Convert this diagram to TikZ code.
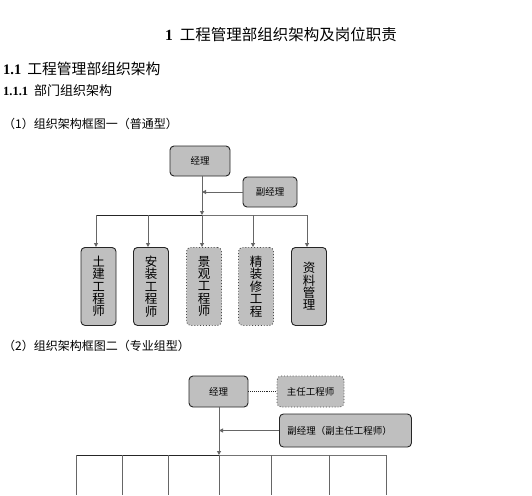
\documentclass[tikz,border=0pt]{standalone}
\usepackage{fontspec}
\setmainfont{Liberation Serif}
\newfontfamily\cjk{Noto Sans CJK SC}
\usetikzlibrary{arrows.meta}
\tikzset{
  box/.style={draw=black!85, line width=0.9pt, fill=black!25, rounded corners=4pt, inner sep=0pt},
  dbox/.style={box, dotted, draw=black!70},
  conn/.style={draw=black!60, line width=1pt},
  arr/.style={conn, -{Triangle[length=4pt,width=4pt]}},
  vtext/.style={font=\cjk\fontsize{12.5}{12.4}\selectfont, align=center},
  stext/.style={font=\cjk\fontsize{9.5}{11}\selectfont},
}
\begin{document}
\begin{tikzpicture}[x=1pt,y=-1pt]
\useasboundingbox[fill=white] (0,0) rectangle (532,495);
% headings
\node[anchor=west, inner sep=0pt] (title) at (165,35) {\fontsize{15.5}{16}\selectfont\textbf{1}\hspace{7pt}{\cjk 工程管理部组织架构及岗位职责}};
\node[anchor=west, inner sep=0pt] (h11) at (3,69) {\fontsize{14.5}{16}\selectfont\textbf{1.1}\hspace{6pt}{\cjk\fontsize{14.8}{16}\selectfont 工程管理部组织架构}};
\node[anchor=west, inner sep=0pt] (h111) at (3,91) {\fontsize{12.5}{14}\selectfont\textbf{1.1.1}\hspace{6pt}{\cjk\fontsize{13}{14}\selectfont 部门组织架构}};
\node[anchor=west, inner sep=0pt] (c1) at (3,124) {\cjk\fontsize{12}{14}\selectfont （1）组织架构框图一（普通型）};
\node[anchor=west, inner sep=0pt] (c2) at (3,346) {\cjk\fontsize{12}{14}\selectfont （2）组织架构框图二（专业组型）};

% ---------- Figure 1 ----------
\node[box, minimum width=60pt, minimum height=30pt, stext] (m1) at (200,161) {经理};
\node[box, minimum width=54pt, minimum height=30pt, stext] (d1) at (270,192) {副经理};
\coordinate (j1) at (202,192);
\coordinate (b1) at (202,215);
\draw[conn] (202,176) -- (j1);
\draw[arr] (j1) -- (b1);
\draw[arr] (d1.west) -- (j1);
\draw[line width=1pt, black!85] (96,215) -- (202,215);
\draw[line width=1pt, black!55] (202,215) -- (307,215);
\foreach \n/\x/\s/\t in {a/98.5/box/{土\\建\\工\\程\\师},
                          b/151/box/{安\\装\\工\\程\\师},
                          c/204/dbox/{景\\观\\工\\程\\师},
                          d/256/dbox/{精\\装\\修\\工\\程},
                          e/309/box/{资\\料\\管\\理}} {
  \node[\s, minimum width=35pt, minimum height=78pt, vtext, anchor=north] (k\n) at (\x,247) {\t};
}
\foreach \n/\x in {a/96,b/148,c/202,d/253,e/307} {
  \coordinate (t\n) at (\x,215);
  \draw[arr] (t\n) -- (\x,247);
}

% ---------- Figure 2 ----------
\node[box, minimum width=59pt, minimum height=31pt, stext] (m2) at (218.5,391.5) {经理};
\node[dbox, minimum width=67pt, minimum height=31pt, stext] (z2) at (310.5,391.5) {主任工程师};
\node[box, minimum width=132pt, minimum height=33pt, stext, anchor=west, inner xsep=8pt, align=left, text width=116pt] (d2) at (279,430.5) {副经理（副主任工程师）};
\draw[black!85, line width=0.9pt, densely dotted] (m2.east) -- (z2.west);
\coordinate (j2) at (219,430.5);
\coordinate (b2) at (219,455);
\draw[conn] (219,407) -- (j2);
\draw[arr] (j2) -- (b2);
\draw[arr] (d2.west) -- (j2);
\draw[line width=1pt, black!85] (76,455) -- (219,455);
\draw[line width=1pt, black!55] (219,455) -- (386,455);
\foreach \x in {76,122,168,219,271,329,386} {
  \draw[conn] (\x,455) -- (\x,495);
}
\end{tikzpicture}
\end{document}
